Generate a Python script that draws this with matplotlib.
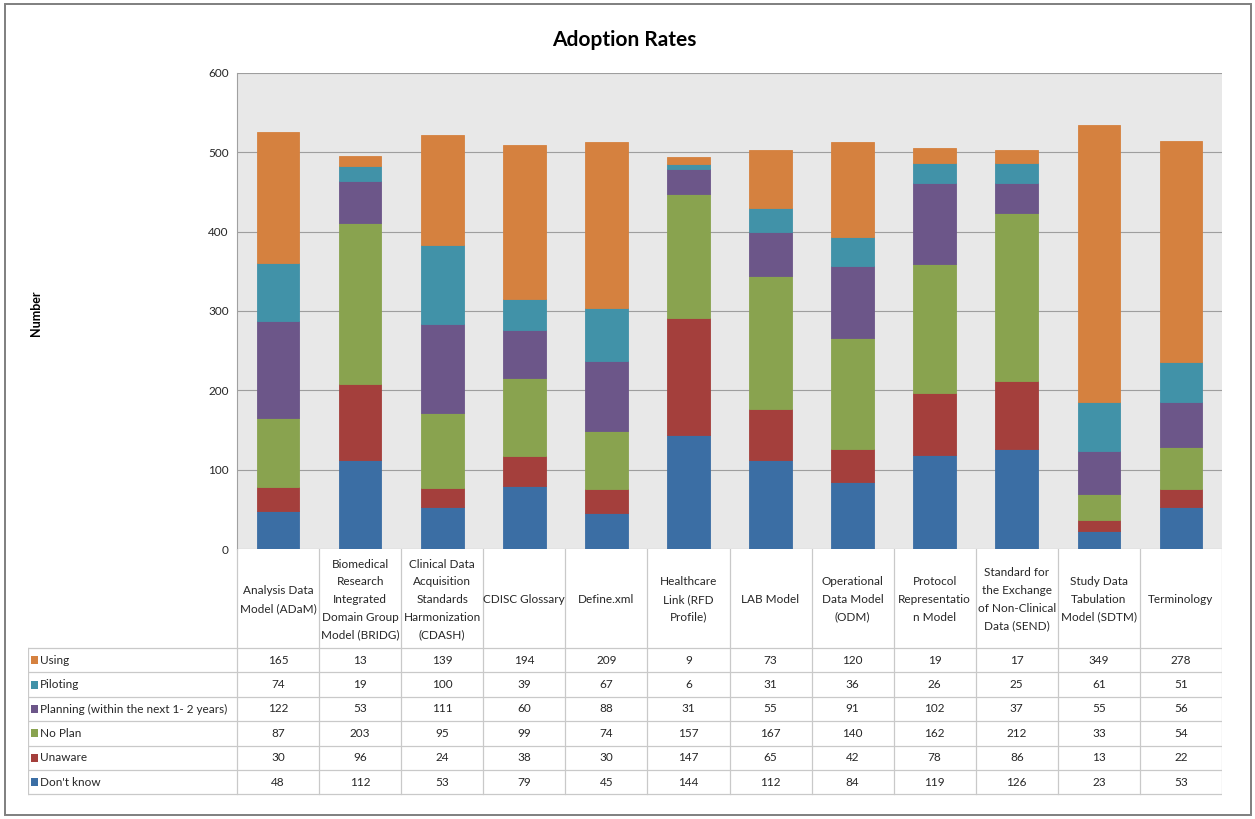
import matplotlib

matplotlib.use("Agg")
import matplotlib.pyplot as plt
import numpy as np
from matplotlib.patches import Rectangle

plt.rcParams["font.family"] = ["Lato", "DejaVu Sans"]

CATEGORIES = [
    "Analysis Data\nModel (ADaM)",
    "Biomedical\nResearch\nIntegrated\nDomain Group\nModel (BRIDG)",
    "Clinical Data\nAcquisition\nStandards\nHarmonization\n(CDASH)",
    "CDISC Glossary",
    "Define.xml",
    "Healthcare\nLink (RFD\nProfile)",
    "LAB Model",
    "Operational\nData Model\n(ODM)",
    "Protocol\nRepresentatio\nn Model",
    "Standard for\nthe Exchange\nof Non-Clinical\nData (SEND)",
    "Study Data\nTabulation\nModel (SDTM)",
    "Terminology",
]

# stacked bottom -> top
dont_know = [48, 112, 53, 79, 45, 144, 112, 84, 119, 126, 23, 53]
unaware = [30, 96, 24, 38, 30, 147, 65, 42, 78, 86, 13, 22]
no_plan = [87, 203, 95, 99, 74, 157, 167, 140, 162, 212, 33, 54]
planning = [122, 53, 111, 60, 88, 31, 55, 91, 102, 37, 55, 56]
piloting = [74, 19, 100, 39, 67, 6, 31, 36, 26, 25, 61, 51]
using = [165, 13, 139, 194, 209, 9, 73, 120, 19, 17, 349, 278]

SERIES = [
    ("Don't know", dont_know, "#3B6EA4"),
    ("Unaware", unaware, "#A43F3C"),
    ("No Plan", no_plan, "#89A34F"),
    ("Planning (within the next 1- 2 years)", planning, "#6C5689"),
    ("Piloting", piloting, "#4192A8"),
    ("Using", using, "#D5813F"),
]

W, H = 1255, 819
PLOT_L, PLOT_R, PLOT_T, PLOT_B = 237, 1222, 73, 549
LEG_L = 28
HEADER_B = 648
ROW_H = 24.4
GRID_C = "#C9C9C9"
TXT_C = "#262626"


def fig_rect(x0, y0, x1, y1):
    return [x0 / W, 1 - y1 / H, (x1 - x0) / W, (y1 - y0) / H]


fig = plt.figure(figsize=(W / 100, H / 100), dpi=100)
fig.patch.set_facecolor("white")
fig.add_artist(Rectangle((5 / W, 4 / H), 1246 / W, 811 / H, transform=fig.transFigure,
                         facecolor="none", edgecolor="#7F7F7F", linewidth=1.4))

ax = fig.add_axes(fig_rect(PLOT_L, PLOT_T, PLOT_R, PLOT_B))
ax.set_facecolor("#E8E8E8")
n = len(CATEGORIES)
x = np.arange(n)
bottom = np.zeros(n)
for name, vals, color in SERIES:
    ax.bar(x, vals, width=0.52, bottom=bottom, color=color, edgecolor=color,
           linewidth=0.6, zorder=3)
    bottom += np.array(vals)

ax.set_xlim(-0.5, n - 0.5)
ax.set_ylim(0, 600)
ax.set_yticks(range(0, 601, 100))
ax.tick_params(axis="y", length=0, labelsize=8.5, colors=TXT_C, pad=6)
ax.tick_params(axis="x", bottom=False, labelbottom=False)
ax.grid(axis="y", color="#9E9E9E", linewidth=0.8, zorder=0)
for side in ["top", "right", "bottom"]:
    ax.spines[side].set_visible(False)
ax.spines["left"].set_color("#A0A0A0")

fig.text(624 / W, 1 - 40 / H, "Adoption Rates", ha="center", va="center",
         fontsize=15, fontweight="bold", color="black")
fig.text(36 / W, 1 - 313 / H, "Number", rotation=90, ha="center", va="center",
         fontsize=9, fontweight="bold", color="black")

# data table below the plot
col_w = (PLOT_R - PLOT_L) / n
tab = fig.add_axes(fig_rect(LEG_L, PLOT_B, PLOT_R, 800))
tab.set_xlim(LEG_L, PLOT_R)
tab.set_ylim(800, PLOT_B)
tab.axis("off")

rows_top_down = list(reversed(SERIES))
table_bottom = HEADER_B + ROW_H * len(rows_top_down)
for i in range(n + 1):
    xv = PLOT_L + i * col_w
    tab.plot([xv, xv], [PLOT_B, table_bottom], color=GRID_C, lw=0.9)
tab.plot([LEG_L, LEG_L], [HEADER_B, table_bottom], color=GRID_C, lw=0.9)
for r in range(len(rows_top_down) + 1):
    yv = HEADER_B + r * ROW_H
    tab.plot([LEG_L, PLOT_R], [yv, yv], color=GRID_C, lw=0.9)

for i, cat in enumerate(CATEGORIES):
    tab.text(PLOT_L + (i + 0.5) * col_w, (PLOT_B + HEADER_B) / 2 + 1, cat,
             ha="center", va="center", fontsize=8.5, color=TXT_C, linespacing=1.75)

for r, (name, vals, color) in enumerate(rows_top_down):
    yc = HEADER_B + (r + 0.5) * ROW_H
    tab.add_patch(Rectangle((LEG_L + 3, yc - 4), 7, 8, facecolor=color, edgecolor="none"))
    tab.text(LEG_L + 12, yc, name, ha="left", va="center", fontsize=8.5, color=TXT_C)
    for i, v in enumerate(vals):
        tab.text(PLOT_L + (i + 0.5) * col_w, yc, str(v), ha="center", va="center",
                 fontsize=8.5, color=TXT_C)

fig.savefig("out.png", dpi=100)
